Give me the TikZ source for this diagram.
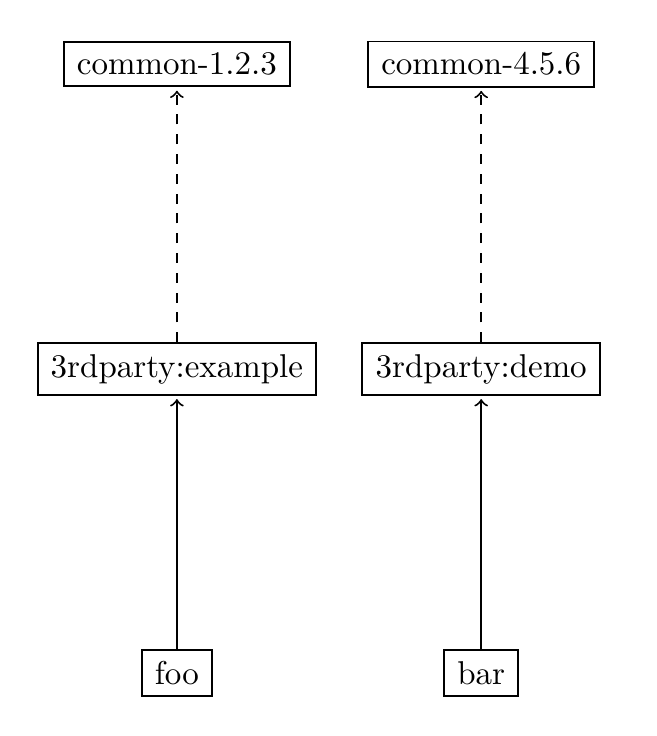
\documentclass[tikz,border=0pt]{standalone}
\usepackage{tikz}

\begin{document}
\begin{tikzpicture}[every node/.style={draw,semithick,rectangle,inner xsep=4pt}]
\useasboundingbox (-53.6pt,-19.1pt) rectangle (145.2pt,203.9pt);

\node (foo) at (0,0) {foo};
\node (bar) at (92.2pt,0) {bar};
\node (example) at (0,92.1pt) {3rdparty:example};
\node (demo) at (92.2pt,92.1pt) {3rdparty:demo};
\node (commonA) at (0,184.5pt) {common-1.2.3};
\node (commonB) at (92.2pt,184.5pt) {common-4.5.6};

\draw [semithick,->,shorten >=1pt](foo) -- (example);
\draw [semithick,->,shorten >=1pt](bar) -- (demo);
\draw [semithick,dashed,->,shorten >=1pt](example) -- (commonA);
\draw [semithick,dashed,->,shorten >=1pt](demo) -- (commonB);
\end{tikzpicture}
\end{document}
